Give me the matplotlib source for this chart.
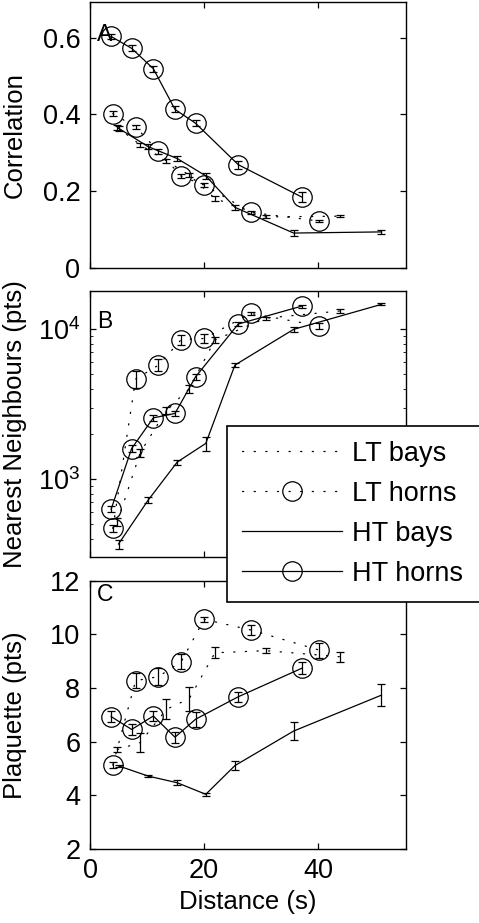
import numpy as np
import matplotlib
matplotlib.use("Agg")
import matplotlib.pyplot as plt
from matplotlib.lines import Line2D

plt.rcParams['font.family'] = ['Liberation Sans', 'DejaVu Sans']

# Sampling distances (s) of each series
lt_bays_x = [4.8, 8.8, 13.4, 17.4, 21.9, 30.8, 43.9]
lt_horns_x = [4.0, 8.0, 12.0, 16.0, 20.0, 28.2, 40.2]
ht_bays_x = [5.0, 10.2, 15.3, 20.3, 25.4, 35.7, 51.1]
ht_horns_x = [3.7, 7.3, 11.1, 14.9, 18.5, 26.0, 37.1]

# A - correlation
lt_bays_corr = [0.366, 0.321, 0.279, 0.242, 0.181, 0.133, 0.135]
lt_horns_corr = [0.402, 0.367, 0.304, 0.239, 0.216, 0.145, 0.122]
ht_bays_corr = [0.364, 0.316, 0.285, 0.240, 0.158, 0.091, 0.094]
ht_horns_corr = [0.603, 0.572, 0.519, 0.413, 0.377, 0.269, 0.185]
lt_bays_corr_err = [0.006, 0.005, 0.006, 0.006, 0.006, 0.004, 0.003]
lt_horns_corr_err = [0.006, 0.006, 0.006, 0.005, 0.006, 0.004, 0.003]
ht_bays_corr_err = [0.006, 0.006, 0.007, 0.008, 0.007, 0.007, 0.006]
ht_horns_corr_err = [0.007, 0.008, 0.008, 0.008, 0.008, 0.010, 0.012]

# B - nearest neighbours (pts)
lt_bays_nn = [520, 1500, 2880, 4000, 8450, 11800, 13200]
lt_horns_nn = [470, 4640, 5750, 8500, 8650, 12700, 10500]
ht_bays_nn = [370, 725, 1300, 1730, 5750, 9950, 14600]
ht_horns_nn = [630, 1600, 2560, 2740, 4800, 10800, 14200]
lt_bays_nn_err = [30, 100, 150, 250, 400, 300, 400]
lt_horns_nn_err = [25, 600, 520, 680, 600, 350, 500]
ht_bays_nn_err = [25, 30, 50, 190, 200, 350, 250]
ht_horns_nn_err = [30, 80, 110, 120, 240, 400, 350]

# C - plaquette (pts)
lt_bays_plq = [5.7, 5.96, 7.2, 7.6, 9.31, 9.39, 9.16]
lt_horns_plq = [5.12, 8.27, 8.42, 8.98, 10.56, 10.16, 9.41]
ht_bays_plq = [5.09, 4.71, 4.46, 4.03, 5.10, 6.39, 7.73]
ht_horns_plq = [6.93, 6.45, 6.95, 6.16, 6.83, 7.67, 8.73]
lt_bays_plq_err = [0.10, 0.34, 0.37, 0.45, 0.20, 0.10, 0.19]
lt_horns_plq_err = [0.10, 0.28, 0.31, 0.27, 0.10, 0.19, 0.28]
ht_bays_plq_err = [0.05, 0.03, 0.10, 0.05, 0.18, 0.33, 0.40]
ht_horns_plq_err = [0.20, 0.20, 0.20, 0.20, 0.28, 0.19, 0.22]

dotted = (0, (1, 8.3))
styles = {
    'LT bays': dict(ls=dotted, marker=None),
    'LT horns': dict(ls=dotted, marker='o'),
    'HT bays': dict(ls='-', marker=None),
    'HT horns': dict(ls='-', marker='o'),
}

panels = [
    ('Correlation', 'A',
     [(lt_bays_x, lt_bays_corr, lt_bays_corr_err),
      (lt_horns_x, lt_horns_corr, lt_horns_corr_err),
      (ht_bays_x, ht_bays_corr, ht_bays_corr_err),
      (ht_horns_x, ht_horns_corr, ht_horns_corr_err)]),
    ('Nearest Neighbours (pts)', 'B',
     [(lt_bays_x, lt_bays_nn, lt_bays_nn_err),
      (lt_horns_x, lt_horns_nn, lt_horns_nn_err),
      (ht_bays_x, ht_bays_nn, ht_bays_nn_err),
      (ht_horns_x, ht_horns_nn, ht_horns_nn_err)]),
    ('Plaquette (pts)', 'C',
     [(lt_bays_x, lt_bays_plq, lt_bays_plq_err),
      (lt_horns_x, lt_horns_plq, lt_horns_plq_err),
      (ht_bays_x, ht_bays_plq, ht_bays_plq_err),
      (ht_horns_x, ht_horns_plq, ht_horns_plq_err)]),
]

fig = plt.figure(figsize=(4.79, 9.23), dpi=100)
W, H = 479, 923
boxes = [(90, 1.5, 406, 268), (90, 290.7, 406, 557), (90, 580.7, 406, 848.7)]
letter_y = [0.92, 0.928, 0.99]

axes = []
for (ylab, letter, series), (x0, y0, x1, y1), ly in zip(panels, boxes, letter_y):
    ax = fig.add_axes([x0 / W, 1 - y1 / H, (x1 - x0) / W, (y1 - y0) / H])
    for name, (xs, ys, es) in zip(styles, series):
        st = styles[name]
        ax.errorbar(xs, ys, yerr=es, fmt='none', ecolor='k', elinewidth=0.9,
                    capsize=3.0, capthick=0.9)
        ax.plot(xs, ys, color='k', lw=0.9, ls=st['ls'], marker=st['marker'],
                ms=14, mfc='none', mec='k', mew=0.9, dash_capstyle='round',
                label=name)
    ax.set_xlim(0, 55.4)
    ax.set_xticks([0, 20, 40])
    ax.set_ylabel(ylab, fontsize=18.5)
    ax.yaxis.set_label_coords(-0.2, 0.5)
    ax.text(0.022, ly, letter, transform=ax.transAxes, fontsize=16.5,
            ha='left', va='top')
    ax.tick_params(direction='in', length=4, width=0.9, top=True, right=True,
                   labelsize=19.5, pad=7)
    ax.tick_params(which='minor', direction='in', length=2.5, width=0.6,
                   top=True, right=True)
    for sp in ax.spines.values():
        sp.set_linewidth(1.0)
    axes.append(ax)

axA, axB, axC = axes
axA.set_ylim(0, 0.694)
axA.set_yticks([0, 0.2, 0.4, 0.6])
axA.set_yticklabels(['0', '0.2', '0.4', '0.6'])
axA.tick_params(labelbottom=False)

axB.set_yscale('log')
axB.set_ylim(303, 18000)
axB.set_yticks([1e3, 1e4])
axB.tick_params(labelbottom=False)

axC.set_ylim(2, 12)
axC.set_yticks([2, 4, 6, 8, 10, 12])
axC.set_xlabel('Distance (s)', fontsize=18.5)

# Legend box runs past the right edge of the figure
handles = [Line2D([], [], color='k', lw=0.9, ls=styles[n]['ls'],
                  marker=styles[n]['marker'], ms=14, mfc='none', mew=0.9,
                  dash_capstyle='round')
           for n in styles]
leg = fig.legend(handles, list(styles), loc='upper left',
                 bbox_to_anchor=(226.7 / W, 1 - 425.7 / H, 0.56, 0.0),
                 mode='expand', fontsize=19.5, handlelength=3.7,
                 handletextpad=0.37, labelspacing=0.52, borderpad=0.55,
                 borderaxespad=0, fancybox=False, framealpha=1, edgecolor='k')
leg.get_frame().set_linewidth(1.2)

fig.savefig('out.png', dpi=100)
